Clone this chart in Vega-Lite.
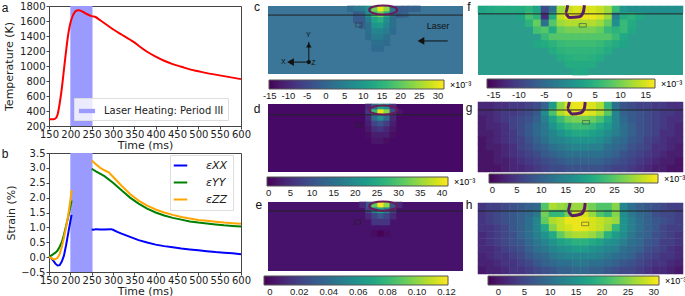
{"$schema":"https://vega.github.io/schema/vega-lite/v6.json","background":"white","padding":{"left":1,"top":-1,"right":30,"bottom":30},"bounds":"flush","spacing":219,
"config":{"font":"DejaVu Sans","view":{"stroke":null},"axis":{"grid":false,"labelFont":"DejaVu Sans","titleFont":"DejaVu Sans","labelFontSize":10,"titleFontSize":11,"titleFontWeight":"normal","labelColor":"#222","titleColor":"#222","tickColor":"#444","domainColor":"#444","tickSize":3,"labelPadding":1,"tickCount":20,"labelOverlap":false,"labelBound":false,"labelFlush":false},"legend":{"titleFont":"Liberation Sans","labelFont":"Liberation Sans","tickCount":20,"labelOverlap":false}},
"hconcat":[
{"vconcat":[
{"width":192,"height":120,"view":{"stroke":"#444"},"layer":[
{"data":{"values":[{"t0":200,"t1":252,"s":"Laser Heating: Period III"}]},"mark":{"type":"rect"},"encoding":{"x":{"field":"t0","type":"quantitative","scale":{"domain":[150,600]},"axis":{"values":[150,200,250,300,350,400,450,500,550,600],"title":"Time (ms)","titlePadding":0,"labelPadding":0}},"x2":{"field":"t1"},"color":{"field":"s","type":"nominal","scale":{"range":["#9a9aff"]},"legend":{"orient":"none","legendX":25,"legendY":92,"title":null,"symbolType":"M-1,-0.27H1V0.27H-1Z","symbolSize":260,"symbolOpacity":1,"labelFont":"DejaVu Sans","labelFontSize":10,"labelColor":"#222","labelOffset":8,"labelExpr":"datum.label+'\u00a0\u00a0\u00a0'","fillColor":"rgba(255,255,255,0.8)","strokeColor":"#ddd","padding":4}}}},
{"data":{"values":[{"t":150,"T":290},{"t":160,"T":290},{"t":165,"T":300},{"t":170,"T":350},{"t":175,"T":500},{"t":180,"T":700},{"t":185,"T":950},{"t":190,"T":1200},{"t":195,"T":1420},{"t":200,"T":1570},{"t":205,"T":1660},{"t":210,"T":1715},{"t":215,"T":1740},{"t":220,"T":1745},{"t":225,"T":1735},{"t":230,"T":1720},{"t":240,"T":1690},{"t":250,"T":1665},{"t":260,"T":1650},{"t":270,"T":1610},{"t":280,"T":1570},{"t":290,"T":1530},{"t":300,"T":1490},{"t":320,"T":1420},{"t":340,"T":1350},{"t":350,"T":1315},{"t":360,"T":1270},{"t":380,"T":1190},{"t":400,"T":1125},{"t":420,"T":1070},{"t":440,"T":1025},{"t":460,"T":990},{"t":480,"T":955},{"t":500,"T":930},{"t":520,"T":905},{"t":540,"T":885},{"t":560,"T":865},{"t":580,"T":845},{"t":600,"T":825}]},"mark":{"type":"line","color":"#ff0000","strokeWidth":2,"interpolate":"monotone"},"encoding":{"x":{"field":"t","type":"quantitative"},"y":{"field":"T","type":"quantitative","scale":{"domain":[200,1800]},"axis":{"values":[200,400,600,800,1000,1200,1400,1600,1800],"format":"d","title":"Temperature (K)","titlePadding":5}}}},
{"data":{"values":[{"t":47,"T":1773,"l":"a"}]},"mark":{"type":"text","font":"Liberation Sans","fontSize":12,"color":"#111"},"encoding":{"x":{"field":"t","type":"quantitative"},"y":{"field":"T","type":"quantitative"},"text":{"field":"l"}}}
]},
{"width":192,"height":119,"view":{"stroke":"#444"},"layer":[
{"data":{"values":[{"t0":200,"t1":252}]},"mark":{"type":"rect","color":"#9a9aff"},"encoding":{"x":{"field":"t0","type":"quantitative","scale":{"domain":[150,600]},"axis":{"values":[150,200,250,300,350,400,450,500,550,600],"title":"Time (ms)","titlePadding":0,"labelPadding":0}},"x2":{"field":"t1"}}},
{"data":{"values":[
{"t":150,"e":0,"s":"εXX","g":1},{"t":155,"e":-0.03,"s":"εXX","g":1},{"t":160,"e":-0.12,"s":"εXX","g":1},{"t":165,"e":-0.22,"s":"εXX","g":1},{"t":170,"e":-0.28,"s":"εXX","g":1},{"t":175,"e":-0.27,"s":"εXX","g":1},{"t":180,"e":-0.15,"s":"εXX","g":1},{"t":185,"e":0.05,"s":"εXX","g":1},{"t":190,"e":0.4,"s":"εXX","g":1},{"t":195,"e":0.8,"s":"εXX","g":1},{"t":200,"e":1.2,"s":"εXX","g":1},{"t":203,"e":1.42,"s":"εXX","g":1},
{"t":250,"e":0.93,"s":"εXX","g":2},{"t":255,"e":0.92,"s":"εXX","g":2},{"t":260,"e":0.94,"s":"εXX","g":2},{"t":270,"e":0.93,"s":"εXX","g":2},{"t":280,"e":0.93,"s":"εXX","g":2},{"t":295,"e":0.94,"s":"εXX","g":2},{"t":300,"e":0.92,"s":"εXX","g":2},{"t":310,"e":0.85,"s":"εXX","g":2},{"t":320,"e":0.79,"s":"εXX","g":2},{"t":340,"e":0.68,"s":"εXX","g":2},{"t":360,"e":0.57,"s":"εXX","g":2},{"t":380,"e":0.49,"s":"εXX","g":2},{"t":400,"e":0.42,"s":"εXX","g":2},{"t":420,"e":0.37,"s":"εXX","g":2},{"t":440,"e":0.33,"s":"εXX","g":2},{"t":460,"e":0.29,"s":"εXX","g":2},{"t":480,"e":0.26,"s":"εXX","g":2},{"t":500,"e":0.23,"s":"εXX","g":2},{"t":520,"e":0.2,"s":"εXX","g":2},{"t":540,"e":0.17,"s":"εXX","g":2},{"t":560,"e":0.15,"s":"εXX","g":2},{"t":580,"e":0.13,"s":"εXX","g":2},{"t":600,"e":0.1,"s":"εXX","g":2},
{"t":150,"e":0,"s":"εYY","g":1},{"t":155,"e":0.05,"s":"εYY","g":1},{"t":160,"e":0.1,"s":"εYY","g":1},{"t":165,"e":0.15,"s":"εYY","g":1},{"t":170,"e":0.22,"s":"εYY","g":1},{"t":175,"e":0.35,"s":"εYY","g":1},{"t":180,"e":0.5,"s":"εYY","g":1},{"t":185,"e":0.75,"s":"εYY","g":1},{"t":190,"e":1.05,"s":"εYY","g":1},{"t":195,"e":1.35,"s":"εYY","g":1},{"t":200,"e":1.7,"s":"εYY","g":1},{"t":203,"e":1.9,"s":"εYY","g":1},
{"t":250,"e":2.97,"s":"εYY","g":2},{"t":260,"e":2.88,"s":"εYY","g":2},{"t":280,"e":2.72,"s":"εYY","g":2},{"t":300,"e":2.5,"s":"εYY","g":2},{"t":320,"e":2.25,"s":"εYY","g":2},{"t":340,"e":2.0,"s":"εYY","g":2},{"t":360,"e":1.8,"s":"εYY","g":2},{"t":380,"e":1.63,"s":"εYY","g":2},{"t":400,"e":1.5,"s":"εYY","g":2},{"t":420,"e":1.4,"s":"εYY","g":2},{"t":440,"e":1.32,"s":"εYY","g":2},{"t":460,"e":1.26,"s":"εYY","g":2},{"t":480,"e":1.2,"s":"εYY","g":2},{"t":500,"e":1.16,"s":"εYY","g":2},{"t":520,"e":1.13,"s":"εYY","g":2},{"t":540,"e":1.1,"s":"εYY","g":2},{"t":560,"e":1.07,"s":"εYY","g":2},{"t":580,"e":1.05,"s":"εYY","g":2},{"t":600,"e":1.03,"s":"εYY","g":2},
{"t":150,"e":0,"s":"εZZ","g":1},{"t":155,"e":-0.03,"s":"εZZ","g":1},{"t":160,"e":-0.07,"s":"εZZ","g":1},{"t":165,"e":-0.07,"s":"εZZ","g":1},{"t":170,"e":-0.02,"s":"εZZ","g":1},{"t":175,"e":0.1,"s":"εZZ","g":1},{"t":180,"e":0.35,"s":"εZZ","g":1},{"t":185,"e":0.65,"s":"εZZ","g":1},{"t":190,"e":1.0,"s":"εZZ","g":1},{"t":195,"e":1.4,"s":"εZZ","g":1},{"t":200,"e":1.9,"s":"εZZ","g":1},{"t":203,"e":2.25,"s":"εZZ","g":1},
{"t":250,"e":3.25,"s":"εZZ","g":2},{"t":260,"e":3.12,"s":"εZZ","g":2},{"t":270,"e":3.0,"s":"εZZ","g":2},{"t":280,"e":2.92,"s":"εZZ","g":2},{"t":290,"e":2.85,"s":"εZZ","g":2},{"t":300,"e":2.7,"s":"εZZ","g":2},{"t":320,"e":2.4,"s":"εZZ","g":2},{"t":340,"e":2.12,"s":"εZZ","g":2},{"t":360,"e":1.9,"s":"εZZ","g":2},{"t":380,"e":1.73,"s":"εZZ","g":2},{"t":400,"e":1.6,"s":"εZZ","g":2},{"t":420,"e":1.5,"s":"εZZ","g":2},{"t":440,"e":1.42,"s":"εZZ","g":2},{"t":460,"e":1.35,"s":"εZZ","g":2},{"t":480,"e":1.3,"s":"εZZ","g":2},{"t":500,"e":1.25,"s":"εZZ","g":2},{"t":520,"e":1.22,"s":"εZZ","g":2},{"t":540,"e":1.19,"s":"εZZ","g":2},{"t":560,"e":1.16,"s":"εZZ","g":2},{"t":580,"e":1.14,"s":"εZZ","g":2},{"t":600,"e":1.12,"s":"εZZ","g":2}
]},"mark":{"type":"line","strokeWidth":2},"encoding":{"x":{"field":"t","type":"quantitative"},"y":{"field":"e","type":"quantitative","scale":{"domain":[-0.5,3.5]},"axis":{"values":[-0.5,0,0.5,1,1.5,2,2.5,3,3.5],"format":".1f","title":"Strain (%)","titlePadding":4}},"detail":{"field":"g"},"color":{"field":"s","type":"nominal","scale":{"domain":["εXX","εYY","εZZ"],"range":["#0000ff","#008000","#ffa500"]},"legend":{"orient":"none","legendX":121,"legendY":2,"title":null,"symbolType":"M-2.5,0H2.5","symbolSize":29,"symbolStrokeWidth":2,"labelFont":"DejaVu Sans","labelFontStyle":"italic","labelFontSize":11,"labelColor":"#222","labelOffset":20,"rowPadding":5,"fillColor":"rgba(255,255,255,0.8)","strokeColor":"#ddd","padding":5}}}},
{"data":{"values":[{"t":47,"e":3.47,"l":"b"}]},"mark":{"type":"text","font":"Liberation Sans","fontSize":12,"color":"#111"},"encoding":{"x":{"field":"t","type":"quantitative"},"y":{"field":"e","type":"quantitative"},"text":{"field":"l"}}}
]}
],"spacing":27,"bounds":"flush","resolve":{"scale":{"color":"independent"},"legend":{"color":"independent"}}},
{"hconcat":[
{"vconcat":[
{"width":195,"height":68,"view":{"fill":"#3b7698"},"encoding":{"x":{"field":"x","type":"quantitative","scale":{"domain":[-0.5,31.5]},"axis":null},"y":{"field":"y","type":"quantitative","scale":{"domain":[11.5,-0.5]},"axis":null}},"layer":[
{"data":{"values":[{"i":13,"j":0,"v":1},{"i":14,"j":0,"v":3},{"i":15,"j":0,"v":4},{"i":16,"j":0,"v":8},{"i":17,"j":0,"v":22},{"i":18,"j":0,"v":30},{"i":19,"j":0,"v":24},{"i":20,"j":0,"v":3},{"i":21,"j":0,"v":-2},{"i":22,"j":0,"v":-2},{"i":23,"j":0,"v":-1},{"i":24,"j":0,"v":-1},{"i":14,"j":1,"v":-2},{"i":15,"j":1,"v":-1},{"i":16,"j":1,"v":8},{"i":17,"j":1,"v":18},{"i":18,"j":1,"v":22},{"i":19,"j":1,"v":14},{"i":20,"j":1,"v":3},{"i":21,"j":1,"v":-2},{"i":22,"j":1,"v":-1},{"i":14,"j":2,"v":-2},{"i":15,"j":2,"v":-2},{"i":16,"j":2,"v":4},{"i":17,"j":2,"v":12},{"i":18,"j":2,"v":14},{"i":19,"j":2,"v":8},{"i":20,"j":2,"v":2},{"i":15,"j":3,"v":-1},{"i":16,"j":3,"v":2},{"i":17,"j":3,"v":9},{"i":18,"j":3,"v":10},{"i":19,"j":3,"v":6},{"i":20,"j":3,"v":2},{"i":16,"j":4,"v":2},{"i":17,"j":4,"v":6},{"i":18,"j":4,"v":6},{"i":19,"j":4,"v":4},{"i":20,"j":4,"v":1},{"i":16,"j":5,"v":1},{"i":17,"j":5,"v":4},{"i":18,"j":5,"v":4},{"i":19,"j":5,"v":2},{"i":17,"j":6,"v":2},{"i":18,"j":6,"v":2},{"i":19,"j":6,"v":1},{"i":17,"j":7,"v":1},{"i":18,"j":7,"v":1}]},"mark":{"type":"rect","width":6.7,"height":6.3},"encoding":{"x":{"field":"i","type":"quantitative","scale":{"domain":[-0.5,31.5]},"axis":null},"y":{"field":"j","type":"quantitative","scale":{"domain":[11.5,-0.5]},"axis":null},"color":{"field":"v","type":"quantitative","scale":{"scheme":"viridis","domain":[-15.2,31.6]},"legend":{"orient":"none","legendX":1,"legendY":74,"direction":"horizontal","gradientLength":175,"gradientThickness":9,"title":"×10⁻³","titleOrient":"right","titleFontSize":9,"titleFontWeight":"normal","values":[-15,-10,-5,0,5,10,15,20,25,30],"labelExpr":"''+datum.value","labelFontSize":9.5,"labelColor":"#222","gradientStrokeColor":"#555","gradientStrokeWidth":1}}}},
{"data":{"values":[{"x":-0.5,"y":1.1},{"x":31.5,"y":1.1}]},"mark":{"type":"line","color":"#222","strokeWidth":1}},
{"data":{"values":[{"x":20.7,"y":0.2,"o":1},{"x":20.03,"y":0.77,"o":2},{"x":18.4,"y":1.0,"o":3},{"x":16.77,"y":0.77,"o":4},{"x":16.1,"y":0.2,"o":5},{"x":16.77,"y":-0.37,"o":6},{"x":18.4,"y":-0.6,"o":7},{"x":20.03,"y":-0.37,"o":8}]},"mark":{"type":"line","color":"#6b1a5a","strokeWidth":2,"interpolate":"cardinal-closed"},"encoding":{"order":{"field":"o"}}},
{"data":{"values":[{"x":13.9,"x2":14.9,"y":2.5,"y2":3.2}]},"mark":{"type":"rect","fillOpacity":0,"stroke":"#333","strokeWidth":0.6},"encoding":{"x2":{"field":"x2"},"y2":{"field":"y2"}}},
{"data":{"values":[{"x":24.6,"y":5.67,"g":"l"},{"x":29,"y":5.67,"g":"l"},{"x":6.2,"y":9.4,"g":"y"},{"x":6.2,"y":5.85,"g":"y"},{"x":6.2,"y":9.4,"g":"x"},{"x":2.94,"y":9.4,"g":"x"}]},"mark":{"type":"line","color":"#111","strokeWidth":1},"encoding":{"detail":{"field":"g"}}},
{"data":{"values":[{"x":24.6,"y":5.67},{"x":3.2,"y":9.4}]},"mark":{"type":"point","shape":"triangle-left","filled":true,"color":"#111","opacity":1,"size":60}},
{"data":{"values":[{"x":6.2,"y":6.4}]},"mark":{"type":"point","shape":"triangle-up","filled":true,"color":"#111","opacity":1,"size":30}},
{"data":{"values":[{"x":6.2,"y":9.4}]},"mark":{"type":"point","shape":"circle","filled":true,"color":"#111","opacity":1,"size":18}},
{"data":{"values":[{"x":27.4,"y":3.0,"l":"Laser"}]},"mark":{"type":"text","font":"Liberation Sans","fontSize":9,"color":"#111"},"encoding":{"text":{"field":"l"}}},
{"data":{"values":[{"x":-2.3,"y":-0.3,"l":"c"}]},"mark":{"type":"text","font":"Liberation Sans","fontSize":12,"color":"#111"},"encoding":{"text":{"field":"l"}}},
{"data":{"values":[{"x":6.1,"y":4.7,"l":"Y"},{"x":2.0,"y":9.3,"l":"X"},{"x":6.95,"y":9.6,"l":"Z"}]},"mark":{"type":"text","font":"Liberation Sans","fontSize":7,"color":"#111"},"encoding":{"text":{"field":"l"}}}
]},
{"width":195,"height":68,"view":{"fill":"#460a66"},"encoding":{"x":{"field":"x","type":"quantitative","scale":{"domain":[-0.5,31.5]},"axis":null},"y":{"field":"y","type":"quantitative","scale":{"domain":[11.5,-0.5]},"axis":null}},"layer":[
{"data":{"values":[{"i":16,"j":0,"v":4},{"i":17,"j":0,"v":14},{"i":18,"j":0,"v":24},{"i":19,"j":0,"v":20},{"i":20,"j":0,"v":6},{"i":16,"j":1,"v":6},{"i":17,"j":1,"v":28},{"i":18,"j":1,"v":40},{"i":19,"j":1,"v":34},{"i":20,"j":1,"v":10},{"i":21,"j":1,"v":2},{"i":16,"j":2,"v":4},{"i":17,"j":2,"v":14},{"i":18,"j":2,"v":20},{"i":19,"j":2,"v":14},{"i":20,"j":2,"v":4},{"i":16,"j":3,"v":3},{"i":17,"j":3,"v":8},{"i":18,"j":3,"v":10},{"i":19,"j":3,"v":7},{"i":20,"j":3,"v":3},{"i":16,"j":4,"v":2},{"i":17,"j":4,"v":5},{"i":18,"j":4,"v":6},{"i":19,"j":4,"v":4},{"i":20,"j":4,"v":2},{"i":16,"j":5,"v":1},{"i":17,"j":5,"v":3},{"i":18,"j":5,"v":3},{"i":19,"j":5,"v":3},{"i":20,"j":5,"v":1},{"i":17,"j":6,"v":2},{"i":18,"j":6,"v":2},{"i":19,"j":6,"v":1}]},"mark":{"type":"rect","width":6.7,"height":6.3},"encoding":{"x":{"field":"i","type":"quantitative","scale":{"domain":[-0.5,31.5]},"axis":null},"y":{"field":"j","type":"quantitative","scale":{"domain":[11.5,-0.5]},"axis":null},"color":{"field":"v","type":"quantitative","scale":{"scheme":"viridis","domain":[-0.4,41.4]},"legend":{"orient":"none","legendX":-1,"legendY":73,"direction":"horizontal","gradientLength":181,"gradientThickness":9,"title":"×10⁻³","titleOrient":"right","titleFontSize":9,"titleFontWeight":"normal","values":[0,5,10,15,20,25,30,35,40],"labelExpr":"''+datum.value","labelFontSize":9.5,"labelColor":"#222","gradientStrokeColor":"#555","gradientStrokeWidth":1}}}},
{"data":{"values":[{"x":-0.5,"y":1.4},{"x":31.5,"y":1.4}]},"mark":{"type":"line","color":"#222","strokeWidth":1}},
{"data":{"values":[{"x":20.7,"y":0.55,"o":1},{"x":20.03,"y":1.12,"o":2},{"x":18.4,"y":1.35,"o":3},{"x":16.77,"y":1.12,"o":4},{"x":16.1,"y":0.55,"o":5},{"x":16.77,"y":-0.02,"o":6},{"x":18.4,"y":-0.25,"o":7},{"x":20.03,"y":-0.02,"o":8}]},"mark":{"type":"line","color":"#6b1a5a","strokeWidth":2,"interpolate":"cardinal-closed"},"encoding":{"order":{"field":"o"}}},
{"data":{"values":[{"x":13.9,"x2":14.9,"y":2.85,"y2":3.55}]},"mark":{"type":"rect","fillOpacity":0,"stroke":"#222","strokeWidth":0.6},"encoding":{"x2":{"field":"x2"},"y2":{"field":"y2"}}},
{"data":{"values":[{"x":-2.3,"y":0.38,"l":"d"}]},"mark":{"type":"text","font":"Liberation Sans","fontSize":12,"color":"#111"},"encoding":{"text":{"field":"l"}}}
]},
{"width":195,"height":69,"view":{"fill":"#47126c"},"encoding":{"x":{"field":"x","type":"quantitative","scale":{"domain":[-0.5,31.5]},"axis":null},"y":{"field":"y","type":"quantitative","scale":{"domain":[11.5,-0.5]},"axis":null}},"layer":[
{"data":{"values":[{"i":16,"j":0,"v":0.03},{"i":17,"j":0,"v":0.09},{"i":18,"j":0,"v":0.12},{"i":19,"j":0,"v":0.1},{"i":20,"j":0,"v":0.03},{"i":15,"j":0,"v":0.01},{"i":21,"j":0,"v":0.01},{"i":16,"j":1,"v":0.02},{"i":17,"j":1,"v":0.05},{"i":18,"j":1,"v":0.07},{"i":19,"j":1,"v":0.05},{"i":20,"j":1,"v":0.02},{"i":16,"j":2,"v":0.01},{"i":17,"j":2,"v":0.02},{"i":18,"j":2,"v":0.03},{"i":19,"j":2,"v":0.02},{"i":20,"j":2,"v":0.01},{"i":17,"j":3,"v":0.015},{"i":18,"j":3,"v":0.015},{"i":19,"j":3,"v":0.015},{"i":17,"j":5,"v":0},{"i":18,"j":5,"v":-0.003},{"i":19,"j":5,"v":0}]},"mark":{"type":"rect","width":6.7,"height":6.4},"encoding":{"x":{"field":"i","type":"quantitative","scale":{"domain":[-0.5,31.5]},"axis":null},"y":{"field":"j","type":"quantitative","scale":{"domain":[11.5,-0.5]},"axis":null},"color":{"field":"v","type":"quantitative","scale":{"scheme":"viridis","domain":[-0.004,0.121]},"legend":{"orient":"none","legendX":-4,"legendY":74,"direction":"horizontal","gradientLength":184,"gradientThickness":9,"title":null,"values":[0,0.02,0.04,0.06,0.08,0.1,0.12],"labelExpr":"datum.value==0?'0':format(datum.value,'.2f')","labelFontSize":9.5,"labelColor":"#222","gradientStrokeColor":"#555","gradientStrokeWidth":1}}}},
{"data":{"values":[{"x":-0.5,"y":1.07},{"x":31.5,"y":1.07}]},"mark":{"type":"line","color":"#222","strokeWidth":1}},
{"data":{"values":[{"x":20.7,"y":0.2,"o":1},{"x":20.03,"y":0.77,"o":2},{"x":18.4,"y":1.0,"o":3},{"x":16.77,"y":0.77,"o":4},{"x":16.1,"y":0.2,"o":5},{"x":16.77,"y":-0.37,"o":6},{"x":18.4,"y":-0.6,"o":7},{"x":20.03,"y":-0.37,"o":8}]},"mark":{"type":"line","color":"#6b1a5a","strokeWidth":2,"interpolate":"cardinal-closed"},"encoding":{"order":{"field":"o"}}},
{"data":{"values":[{"x":13.7,"x2":14.7,"y":2.65,"y2":3.35}]},"mark":{"type":"rect","fillOpacity":0,"stroke":"#222","strokeWidth":0.6},"encoding":{"x2":{"field":"x2"},"y2":{"field":"y2"}}},
{"data":{"values":[{"x":-2.0,"y":0.0,"l":"e"}]},"mark":{"type":"text","font":"Liberation Sans","fontSize":12,"color":"#111"},"encoding":{"text":{"field":"l"}}}
]}
],"spacing":30,"bounds":"flush","resolve":{"scale":{"color":"independent"},"legend":{"color":"independent"}}},
{"vconcat":[
{"vconcat":[
{"width":205,"height":69,"view":{"fill":"#2a9d8c"},"encoding":{"x":{"field":"x","type":"quantitative","scale":{"domain":[-0.5,25.5]},"axis":null},"y":{"field":"y","type":"quantitative","scale":{"domain":[9.5,-0.5]},"axis":null}},"layer":[
{"data":{"values":[{"i":0,"j":0,"v":3},{"i":1,"j":0,"v":3.5},{"i":2,"j":0,"v":4},{"i":3,"j":0,"v":4},{"i":4,"j":0,"v":4},{"i":5,"j":0,"v":4},{"i":6,"j":0,"v":5},{"i":7,"j":0,"v":3},{"i":8,"j":0,"v":-9},{"i":9,"j":0,"v":-4},{"i":10,"j":0,"v":12},{"i":11,"j":0,"v":14},{"i":12,"j":0,"v":15},{"i":13,"j":0,"v":15},{"i":14,"j":0,"v":15},{"i":15,"j":0,"v":14},{"i":16,"j":0,"v":12},{"i":17,"j":0,"v":6},{"i":18,"j":0,"v":1},{"i":19,"j":0,"v":0},{"i":20,"j":0,"v":0},{"i":21,"j":0,"v":0},{"i":22,"j":0,"v":0},{"i":23,"j":0,"v":0},{"i":24,"j":0,"v":0},{"i":25,"j":0,"v":0},{"i":5,"j":1,"v":3},{"i":6,"j":1,"v":7},{"i":7,"j":1,"v":5},{"i":8,"j":1,"v":-12},{"i":9,"j":1,"v":4},{"i":10,"j":1,"v":14},{"i":11,"j":1,"v":16},{"i":12,"j":1,"v":16},{"i":13,"j":1,"v":16},{"i":14,"j":1,"v":16},{"i":15,"j":1,"v":15},{"i":16,"j":1,"v":12},{"i":17,"j":1,"v":-2},{"i":18,"j":1,"v":4},{"i":19,"j":1,"v":5},{"i":20,"j":1,"v":3.5},{"i":6,"j":2,"v":5},{"i":7,"j":2,"v":9},{"i":8,"j":2,"v":-4},{"i":9,"j":2,"v":8},{"i":10,"j":2,"v":12},{"i":11,"j":2,"v":13},{"i":12,"j":2,"v":13},{"i":13,"j":2,"v":13},{"i":14,"j":2,"v":13},{"i":15,"j":2,"v":12},{"i":16,"j":2,"v":9},{"i":17,"j":2,"v":0},{"i":18,"j":2,"v":6},{"i":19,"j":2,"v":4},{"i":7,"j":3,"v":7},{"i":8,"j":3,"v":8},{"i":9,"j":3,"v":4},{"i":10,"j":3,"v":9},{"i":11,"j":3,"v":10},{"i":12,"j":3,"v":10},{"i":13,"j":3,"v":10},{"i":14,"j":3,"v":10},{"i":15,"j":3,"v":9},{"i":16,"j":3,"v":6},{"i":17,"j":3,"v":5},{"i":18,"j":3,"v":6},{"i":19,"j":3,"v":3.5},{"i":8,"j":4,"v":6},{"i":9,"j":4,"v":8},{"i":10,"j":4,"v":8},{"i":11,"j":4,"v":8},{"i":12,"j":4,"v":8},{"i":13,"j":4,"v":8},{"i":14,"j":4,"v":8},{"i":15,"j":4,"v":8},{"i":16,"j":4,"v":8},{"i":17,"j":4,"v":6},{"i":18,"j":4,"v":3.5},{"i":7,"j":5,"v":3.5},{"i":8,"j":5,"v":4},{"i":9,"j":5,"v":5},{"i":10,"j":5,"v":6},{"i":11,"j":5,"v":6.5},{"i":12,"j":5,"v":6.5},{"i":13,"j":5,"v":6.5},{"i":14,"j":5,"v":6.5},{"i":15,"j":5,"v":6},{"i":16,"j":5,"v":5},{"i":17,"j":5,"v":4},{"i":18,"j":5,"v":3},{"i":9,"j":6,"v":4},{"i":10,"j":6,"v":5},{"i":11,"j":6,"v":5.5},{"i":12,"j":6,"v":5.5},{"i":13,"j":6,"v":5.5},{"i":14,"j":6,"v":5.5},{"i":15,"j":6,"v":5},{"i":16,"j":6,"v":4},{"i":10,"j":7,"v":4},{"i":11,"j":7,"v":4.5},{"i":12,"j":7,"v":5},{"i":13,"j":7,"v":5},{"i":14,"j":7,"v":4.5},{"i":15,"j":7,"v":4},{"i":11,"j":8,"v":4},{"i":12,"j":8,"v":4},{"i":13,"j":8,"v":4},{"i":14,"j":8,"v":4},{"i":12,"j":9,"v":3.5},{"i":13,"j":9,"v":3.5}]},"mark":{"type":"rect","width":8.4,"height":7.5},"encoding":{"x":{"field":"i","type":"quantitative","scale":{"domain":[-0.5,25.5]},"axis":null},"y":{"field":"j","type":"quantitative","scale":{"domain":[9.5,-0.5]},"axis":null},"color":{"field":"v","type":"quantitative","scale":{"scheme":"viridis","domain":[-16.3,16.8]},"legend":{"orient":"none","legendX":9,"legendY":73,"direction":"horizontal","gradientLength":168,"gradientThickness":9,"title":"×10⁻³","titleOrient":"right","titleFontSize":9,"titleFontWeight":"normal","values":[-15,-10,-5,0,5,10,15],"labelExpr":"''+datum.value","labelFontSize":9.5,"labelColor":"#222","gradientStrokeColor":"#555","gradientStrokeWidth":1}}}},
{"data":{"values":[{"x":-0.5,"y":0.64},{"x":25.5,"y":0.64}]},"mark":{"type":"line","color":"#222","strokeWidth":1}},
{"data":{"values":[{"x":10.88,"y":-0.6,"o":1},{"x":10.58,"y":0.6,"o":2},{"x":11.09,"y":1.17,"o":3},{"x":12.36,"y":1.07,"o":4},{"x":12.86,"y":0.36,"o":5},{"x":13.0,"y":-0.6,"o":6}]},"mark":{"type":"line","color":"#5a1f63","strokeWidth":3,"interpolate":"monotone"},"encoding":{"order":{"field":"o"}}},
{"data":{"values":[{"x":12.33,"x2":13.23,"y":2.05,"y2":2.55}]},"mark":{"type":"rect","fillOpacity":0,"stroke":"#2f5f50","strokeWidth":0.7},"encoding":{"x2":{"field":"x2"},"y2":{"field":"y2"}}},
{"data":{"values":[{"x":-1.64,"y":-0.36,"l":"f"}]},"mark":{"type":"text","font":"Liberation Sans","fontSize":12,"color":"#111"},"encoding":{"text":{"field":"l"}}}
]},
{"width":205,"height":70,"encoding":{"x":{"field":"x","type":"quantitative","scale":{"domain":[-0.5,25.5]},"axis":null},"y":{"field":"y","type":"quantitative","scale":{"domain":[9.5,-0.5]},"axis":null}},"layer":[
{"data":{"values":[{"i":0,"j":0,"v":3},{"i":1,"j":0,"v":3},{"i":2,"j":0,"v":4},{"i":3,"j":0,"v":4},{"i":4,"j":0,"v":5},{"i":5,"j":0,"v":5},{"i":6,"j":0,"v":6},{"i":7,"j":0,"v":7},{"i":8,"j":0,"v":10},{"i":9,"j":0,"v":18},{"i":10,"j":0,"v":28},{"i":11,"j":0,"v":32},{"i":12,"j":0,"v":33},{"i":13,"j":0,"v":33},{"i":14,"j":0,"v":32},{"i":15,"j":0,"v":30},{"i":16,"j":0,"v":22},{"i":17,"j":0,"v":12},{"i":18,"j":0,"v":8},{"i":19,"j":0,"v":7},{"i":20,"j":0,"v":6},{"i":21,"j":0,"v":6},{"i":22,"j":0,"v":5},{"i":23,"j":0,"v":5},{"i":24,"j":0,"v":4},{"i":25,"j":0,"v":4},
{"i":0,"j":1,"v":3},{"i":1,"j":1,"v":3},{"i":2,"j":1,"v":4},{"i":3,"j":1,"v":5},{"i":4,"j":1,"v":5},{"i":5,"j":1,"v":6},{"i":6,"j":1,"v":7},{"i":7,"j":1,"v":9},{"i":8,"j":1,"v":16},{"i":9,"j":1,"v":24},{"i":10,"j":1,"v":30},{"i":11,"j":1,"v":32},{"i":12,"j":1,"v":33},{"i":13,"j":1,"v":33},{"i":14,"j":1,"v":32},{"i":15,"j":1,"v":30},{"i":16,"j":1,"v":25},{"i":17,"j":1,"v":15},{"i":18,"j":1,"v":10},{"i":19,"j":1,"v":9},{"i":20,"j":1,"v":8},{"i":21,"j":1,"v":7},{"i":22,"j":1,"v":6},{"i":23,"j":1,"v":5},{"i":24,"j":1,"v":5},{"i":25,"j":1,"v":4},
{"i":0,"j":2,"v":2},{"i":1,"j":2,"v":3},{"i":2,"j":2,"v":4},{"i":3,"j":2,"v":5},{"i":4,"j":2,"v":6},{"i":5,"j":2,"v":7},{"i":6,"j":2,"v":8},{"i":7,"j":2,"v":10},{"i":8,"j":2,"v":14},{"i":9,"j":2,"v":19},{"i":10,"j":2,"v":23},{"i":11,"j":2,"v":26},{"i":12,"j":2,"v":27},{"i":13,"j":2,"v":27},{"i":14,"j":2,"v":26},{"i":15,"j":2,"v":24},{"i":16,"j":2,"v":20},{"i":17,"j":2,"v":15},{"i":18,"j":2,"v":11},{"i":19,"j":2,"v":9},{"i":20,"j":2,"v":8},{"i":21,"j":2,"v":7},{"i":22,"j":2,"v":6},{"i":23,"j":2,"v":5},{"i":24,"j":2,"v":4},{"i":25,"j":2,"v":4},
{"i":0,"j":3,"v":2},{"i":1,"j":3,"v":3},{"i":2,"j":3,"v":3},{"i":3,"j":3,"v":4},{"i":4,"j":3,"v":6},{"i":5,"j":3,"v":7},{"i":6,"j":3,"v":9},{"i":7,"j":3,"v":11},{"i":8,"j":3,"v":13},{"i":9,"j":3,"v":17},{"i":10,"j":3,"v":20},{"i":11,"j":3,"v":22},{"i":12,"j":3,"v":23},{"i":13,"j":3,"v":23},{"i":14,"j":3,"v":22},{"i":15,"j":3,"v":20},{"i":16,"j":3,"v":18},{"i":17,"j":3,"v":15},{"i":18,"j":3,"v":12},{"i":19,"j":3,"v":10},{"i":20,"j":3,"v":8},{"i":21,"j":3,"v":7},{"i":22,"j":3,"v":6},{"i":23,"j":3,"v":5},{"i":24,"j":3,"v":4},{"i":25,"j":3,"v":3},
{"i":0,"j":4,"v":2},{"i":1,"j":4,"v":2},{"i":2,"j":4,"v":3},{"i":3,"j":4,"v":4},{"i":4,"j":4,"v":5},{"i":5,"j":4,"v":7},{"i":6,"j":4,"v":9},{"i":7,"j":4,"v":11},{"i":8,"j":4,"v":13},{"i":9,"j":4,"v":15},{"i":10,"j":4,"v":17},{"i":11,"j":4,"v":19},{"i":12,"j":4,"v":20},{"i":13,"j":4,"v":20},{"i":14,"j":4,"v":19},{"i":15,"j":4,"v":18},{"i":16,"j":4,"v":16},{"i":17,"j":4,"v":14},{"i":18,"j":4,"v":12},{"i":19,"j":4,"v":10},{"i":20,"j":4,"v":8},{"i":21,"j":4,"v":7},{"i":22,"j":4,"v":6},{"i":23,"j":4,"v":4},{"i":24,"j":4,"v":4},{"i":25,"j":4,"v":3},
{"i":0,"j":5,"v":1},{"i":1,"j":5,"v":2},{"i":2,"j":5,"v":3},{"i":3,"j":5,"v":4},{"i":4,"j":5,"v":5},{"i":5,"j":5,"v":6},{"i":6,"j":5,"v":8},{"i":7,"j":5,"v":10},{"i":8,"j":5,"v":12},{"i":9,"j":5,"v":14},{"i":10,"j":5,"v":15},{"i":11,"j":5,"v":16},{"i":12,"j":5,"v":17},{"i":13,"j":5,"v":17},{"i":14,"j":5,"v":17},{"i":15,"j":5,"v":16},{"i":16,"j":5,"v":14},{"i":17,"j":5,"v":12},{"i":18,"j":5,"v":11},{"i":19,"j":5,"v":9},{"i":20,"j":5,"v":8},{"i":21,"j":5,"v":6},{"i":22,"j":5,"v":5},{"i":23,"j":5,"v":4},{"i":24,"j":5,"v":3},{"i":25,"j":5,"v":3},
{"i":0,"j":6,"v":1},{"i":1,"j":6,"v":2},{"i":2,"j":6,"v":2},{"i":3,"j":6,"v":3},{"i":4,"j":6,"v":4},{"i":5,"j":6,"v":6},{"i":6,"j":6,"v":7},{"i":7,"j":6,"v":9},{"i":8,"j":6,"v":10},{"i":9,"j":6,"v":12},{"i":10,"j":6,"v":13},{"i":11,"j":6,"v":14},{"i":12,"j":6,"v":15},{"i":13,"j":6,"v":15},{"i":14,"j":6,"v":14},{"i":15,"j":6,"v":14},{"i":16,"j":6,"v":12},{"i":17,"j":6,"v":11},{"i":18,"j":6,"v":10},{"i":19,"j":6,"v":8},{"i":20,"j":6,"v":7},{"i":21,"j":6,"v":6},{"i":22,"j":6,"v":4},{"i":23,"j":6,"v":4},{"i":24,"j":6,"v":3},{"i":25,"j":6,"v":2},
{"i":0,"j":7,"v":1},{"i":1,"j":7,"v":1},{"i":2,"j":7,"v":2},{"i":3,"j":7,"v":3},{"i":4,"j":7,"v":4},{"i":5,"j":7,"v":5},{"i":6,"j":7,"v":6},{"i":7,"j":7,"v":7},{"i":8,"j":7,"v":9},{"i":9,"j":7,"v":10},{"i":10,"j":7,"v":11},{"i":11,"j":7,"v":12},{"i":12,"j":7,"v":12},{"i":13,"j":7,"v":12},{"i":14,"j":7,"v":12},{"i":15,"j":7,"v":12},{"i":16,"j":7,"v":11},{"i":17,"j":7,"v":10},{"i":18,"j":7,"v":8},{"i":19,"j":7,"v":7},{"i":20,"j":7,"v":6},{"i":21,"j":7,"v":5},{"i":22,"j":7,"v":4},{"i":23,"j":7,"v":3},{"i":24,"j":7,"v":2},{"i":25,"j":7,"v":2},
{"i":0,"j":8,"v":1},{"i":1,"j":8,"v":1},{"i":2,"j":8,"v":2},{"i":3,"j":8,"v":2},{"i":4,"j":8,"v":3},{"i":5,"j":8,"v":4},{"i":6,"j":8,"v":5},{"i":7,"j":8,"v":6},{"i":8,"j":8,"v":7},{"i":9,"j":8,"v":8},{"i":10,"j":8,"v":9},{"i":11,"j":8,"v":10},{"i":12,"j":8,"v":10},{"i":13,"j":8,"v":10},{"i":14,"j":8,"v":10},{"i":15,"j":8,"v":10},{"i":16,"j":8,"v":9},{"i":17,"j":8,"v":8},{"i":18,"j":8,"v":7},{"i":19,"j":8,"v":6},{"i":20,"j":8,"v":5},{"i":21,"j":8,"v":4},{"i":22,"j":8,"v":3},{"i":23,"j":8,"v":2},{"i":24,"j":8,"v":2},{"i":25,"j":8,"v":1},
{"i":0,"j":9,"v":1},{"i":1,"j":9,"v":1},{"i":2,"j":9,"v":1},{"i":3,"j":9,"v":2},{"i":4,"j":9,"v":3},{"i":5,"j":9,"v":3},{"i":6,"j":9,"v":4},{"i":7,"j":9,"v":5},{"i":8,"j":9,"v":6},{"i":9,"j":9,"v":7},{"i":10,"j":9,"v":7},{"i":11,"j":9,"v":8},{"i":12,"j":9,"v":8},{"i":13,"j":9,"v":8},{"i":14,"j":9,"v":8},{"i":15,"j":9,"v":8},{"i":16,"j":9,"v":7},{"i":17,"j":9,"v":6},{"i":18,"j":9,"v":6},{"i":19,"j":9,"v":5},{"i":20,"j":9,"v":4},{"i":21,"j":9,"v":3},{"i":22,"j":9,"v":2},{"i":23,"j":9,"v":2},{"i":24,"j":9,"v":1},{"i":25,"j":9,"v":1}]},"mark":{"type":"rect","width":8.4,"height":7.5},"encoding":{"x":{"field":"i","type":"quantitative","scale":{"domain":[-0.5,25.5]},"axis":null},"y":{"field":"j","type":"quantitative","scale":{"domain":[9.5,-0.5]},"axis":null},"color":{"field":"v","type":"quantitative","scale":{"scheme":"viridis","domain":[-0.7,33.9]},"legend":{"orient":"none","legendX":11,"legendY":72,"direction":"horizontal","gradientLength":169,"gradientThickness":9,"title":"×10⁻³","titleOrient":"right","titleFontSize":9,"titleFontWeight":"normal","values":[0,5,10,15,20,25,30],"labelExpr":"''+datum.value","labelFontSize":9.5,"labelColor":"#222","gradientStrokeColor":"#555","gradientStrokeWidth":1}}}},
{"data":{"values":[{"x":-0.5,"y":0.64},{"x":25.5,"y":0.64}]},"mark":{"type":"line","color":"#222","strokeWidth":1}},
{"data":{"values":[{"x":11.09,"y":-0.5,"o":1},{"x":10.8,"y":0.55,"o":2},{"x":11.43,"y":1.21,"o":3},{"x":12.57,"y":1.03,"o":4},{"x":13,"y":0.36,"o":5},{"x":13.1,"y":-0.5,"o":6}]},"mark":{"type":"line","color":"#5a1f63","strokeWidth":3,"interpolate":"monotone"},"encoding":{"order":{"field":"o"}}},
{"data":{"values":[{"x":12.75,"x2":13.65,"y":2.15,"y2":2.65}]},"mark":{"type":"rect","fillOpacity":0,"stroke":"#2f5f50","strokeWidth":0.7},"encoding":{"x2":{"field":"x2"},"y2":{"field":"y2"}}},
{"data":{"values":[{"x":-1.64,"y":0.36,"l":"g"}]},"mark":{"type":"text","font":"Liberation Sans","fontSize":12,"color":"#111"},"encoding":{"text":{"field":"l"}}}
]}
],"spacing":27,"bounds":"flush","resolve":{"scale":{"color":"independent"},"legend":{"color":"independent"}}},
{"width":205,"height":71,"encoding":{"x":{"field":"x","type":"quantitative","scale":{"domain":[-0.5,25.5]},"axis":null},"y":{"field":"y","type":"quantitative","scale":{"domain":[9.5,-0.5]},"axis":null}},"layer":[
{"data":{"values":[{"i":0,"j":0,"v":3},{"i":1,"j":0,"v":4},{"i":2,"j":0,"v":4},{"i":3,"j":0,"v":5},{"i":4,"j":0,"v":6},{"i":5,"j":0,"v":7},{"i":6,"j":0,"v":8},{"i":7,"j":0,"v":9},{"i":8,"j":0,"v":22},{"i":9,"j":0,"v":27},{"i":10,"j":0,"v":26},{"i":11,"j":0,"v":25},{"i":12,"j":0,"v":26},{"i":13,"j":0,"v":26},{"i":14,"j":0,"v":24},{"i":15,"j":0,"v":22},{"i":16,"j":0,"v":22},{"i":17,"j":0,"v":25},{"i":18,"j":0,"v":13},{"i":19,"j":0,"v":10},{"i":20,"j":0,"v":8},{"i":21,"j":0,"v":7},{"i":22,"j":0,"v":6},{"i":23,"j":0,"v":5},{"i":24,"j":0,"v":4},{"i":25,"j":0,"v":4},
{"i":0,"j":1,"v":3},{"i":1,"j":1,"v":4},{"i":2,"j":1,"v":5},{"i":3,"j":1,"v":6},{"i":4,"j":1,"v":7},{"i":5,"j":1,"v":8},{"i":6,"j":1,"v":9},{"i":7,"j":1,"v":11},{"i":8,"j":1,"v":24},{"i":9,"j":1,"v":20},{"i":10,"j":1,"v":20},{"i":11,"j":1,"v":24},{"i":12,"j":1,"v":28},{"i":13,"j":1,"v":29},{"i":14,"j":1,"v":26},{"i":15,"j":1,"v":22},{"i":16,"j":1,"v":20},{"i":17,"j":1,"v":25},{"i":18,"j":1,"v":14},{"i":19,"j":1,"v":11},{"i":20,"j":1,"v":9},{"i":21,"j":1,"v":8},{"i":22,"j":1,"v":6},{"i":23,"j":1,"v":5},{"i":24,"j":1,"v":5},{"i":25,"j":1,"v":4},
{"i":0,"j":2,"v":3},{"i":1,"j":2,"v":4},{"i":2,"j":2,"v":5},{"i":3,"j":2,"v":6},{"i":4,"j":2,"v":7},{"i":5,"j":2,"v":8},{"i":6,"j":2,"v":10},{"i":7,"j":2,"v":13},{"i":8,"j":2,"v":23},{"i":9,"j":2,"v":27},{"i":10,"j":2,"v":28},{"i":11,"j":2,"v":30},{"i":12,"j":2,"v":30},{"i":13,"j":2,"v":30},{"i":14,"j":2,"v":29},{"i":15,"j":2,"v":28},{"i":16,"j":2,"v":27},{"i":17,"j":2,"v":26},{"i":18,"j":2,"v":15},{"i":19,"j":2,"v":12},{"i":20,"j":2,"v":10},{"i":21,"j":2,"v":8},{"i":22,"j":2,"v":7},{"i":23,"j":2,"v":6},{"i":24,"j":2,"v":5},{"i":25,"j":2,"v":4},
{"i":0,"j":3,"v":3},{"i":1,"j":3,"v":3},{"i":2,"j":3,"v":4},{"i":3,"j":3,"v":5},{"i":4,"j":3,"v":7},{"i":5,"j":3,"v":8},{"i":6,"j":3,"v":10},{"i":7,"j":3,"v":13},{"i":8,"j":3,"v":18},{"i":9,"j":3,"v":25},{"i":10,"j":3,"v":28},{"i":11,"j":3,"v":29},{"i":12,"j":3,"v":30},{"i":13,"j":3,"v":30},{"i":14,"j":3,"v":29},{"i":15,"j":3,"v":28},{"i":16,"j":3,"v":26},{"i":17,"j":3,"v":20},{"i":18,"j":3,"v":15},{"i":19,"j":3,"v":12},{"i":20,"j":3,"v":10},{"i":21,"j":3,"v":8},{"i":22,"j":3,"v":7},{"i":23,"j":3,"v":5},{"i":24,"j":3,"v":4},{"i":25,"j":3,"v":4},
{"i":0,"j":4,"v":2},{"i":1,"j":4,"v":3},{"i":2,"j":4,"v":4},{"i":3,"j":4,"v":5},{"i":4,"j":4,"v":6},{"i":5,"j":4,"v":8},{"i":6,"j":4,"v":10},{"i":7,"j":4,"v":12},{"i":8,"j":4,"v":15},{"i":9,"j":4,"v":18},{"i":10,"j":4,"v":23},{"i":11,"j":4,"v":26},{"i":12,"j":4,"v":27},{"i":13,"j":4,"v":27},{"i":14,"j":4,"v":26},{"i":15,"j":4,"v":24},{"i":16,"j":4,"v":19},{"i":17,"j":4,"v":16},{"i":18,"j":4,"v":14},{"i":19,"j":4,"v":11},{"i":20,"j":4,"v":9},{"i":21,"j":4,"v":8},{"i":22,"j":4,"v":6},{"i":23,"j":4,"v":5},{"i":24,"j":4,"v":4},{"i":25,"j":4,"v":3},
{"i":0,"j":5,"v":2},{"i":1,"j":5,"v":3},{"i":2,"j":5,"v":4},{"i":3,"j":5,"v":5},{"i":4,"j":5,"v":6},{"i":5,"j":5,"v":7},{"i":6,"j":5,"v":9},{"i":7,"j":5,"v":11},{"i":8,"j":5,"v":13},{"i":9,"j":5,"v":15},{"i":10,"j":5,"v":17},{"i":11,"j":5,"v":18},{"i":12,"j":5,"v":19},{"i":13,"j":5,"v":19},{"i":14,"j":5,"v":18},{"i":15,"j":5,"v":17},{"i":16,"j":5,"v":15},{"i":17,"j":5,"v":14},{"i":18,"j":5,"v":12},{"i":19,"j":5,"v":10},{"i":20,"j":5,"v":9},{"i":21,"j":5,"v":7},{"i":22,"j":5,"v":6},{"i":23,"j":5,"v":4},{"i":24,"j":5,"v":4},{"i":25,"j":5,"v":3},
{"i":0,"j":6,"v":2},{"i":1,"j":6,"v":2},{"i":2,"j":6,"v":3},{"i":3,"j":6,"v":4},{"i":4,"j":6,"v":5},{"i":5,"j":6,"v":6},{"i":6,"j":6,"v":8},{"i":7,"j":6,"v":10},{"i":8,"j":6,"v":11},{"i":9,"j":6,"v":13},{"i":10,"j":6,"v":14},{"i":11,"j":6,"v":15},{"i":12,"j":6,"v":16},{"i":13,"j":6,"v":16},{"i":14,"j":6,"v":15},{"i":15,"j":6,"v":14},{"i":16,"j":6,"v":13},{"i":17,"j":6,"v":12},{"i":18,"j":6,"v":10},{"i":19,"j":6,"v":9},{"i":20,"j":6,"v":8},{"i":21,"j":6,"v":6},{"i":22,"j":6,"v":5},{"i":23,"j":6,"v":4},{"i":24,"j":6,"v":3},{"i":25,"j":6,"v":2},
{"i":0,"j":7,"v":1},{"i":1,"j":7,"v":2},{"i":2,"j":7,"v":3},{"i":3,"j":7,"v":3},{"i":4,"j":7,"v":4},{"i":5,"j":7,"v":5},{"i":6,"j":7,"v":7},{"i":7,"j":7,"v":8},{"i":8,"j":7,"v":9},{"i":9,"j":7,"v":11},{"i":10,"j":7,"v":12},{"i":11,"j":7,"v":13},{"i":12,"j":7,"v":13},{"i":13,"j":7,"v":13},{"i":14,"j":7,"v":13},{"i":15,"j":7,"v":12},{"i":16,"j":7,"v":11},{"i":17,"j":7,"v":10},{"i":18,"j":7,"v":9},{"i":19,"j":7,"v":8},{"i":20,"j":7,"v":6},{"i":21,"j":7,"v":5},{"i":22,"j":7,"v":4},{"i":23,"j":7,"v":3},{"i":24,"j":7,"v":3},{"i":25,"j":7,"v":2},
{"i":0,"j":8,"v":1},{"i":1,"j":8,"v":1},{"i":2,"j":8,"v":2},{"i":3,"j":8,"v":3},{"i":4,"j":8,"v":3},{"i":5,"j":8,"v":4},{"i":6,"j":8,"v":5},{"i":7,"j":8,"v":7},{"i":8,"j":8,"v":8},{"i":9,"j":8,"v":9},{"i":10,"j":8,"v":10},{"i":11,"j":8,"v":10},{"i":12,"j":8,"v":11},{"i":13,"j":8,"v":11},{"i":14,"j":8,"v":10},{"i":15,"j":8,"v":10},{"i":16,"j":8,"v":9},{"i":17,"j":8,"v":8},{"i":18,"j":8,"v":7},{"i":19,"j":8,"v":6},{"i":20,"j":8,"v":5},{"i":21,"j":8,"v":4},{"i":22,"j":8,"v":3},{"i":23,"j":8,"v":3},{"i":24,"j":8,"v":2},{"i":25,"j":8,"v":1},
{"i":0,"j":9,"v":0},{"i":1,"j":9,"v":1},{"i":2,"j":9,"v":1},{"i":3,"j":9,"v":2},{"i":4,"j":9,"v":3},{"i":5,"j":9,"v":3},{"i":6,"j":9,"v":4},{"i":7,"j":9,"v":5},{"i":8,"j":9,"v":6},{"i":9,"j":9,"v":7},{"i":10,"j":9,"v":8},{"i":11,"j":9,"v":8},{"i":12,"j":9,"v":9},{"i":13,"j":9,"v":9},{"i":14,"j":9,"v":8},{"i":15,"j":9,"v":8},{"i":16,"j":9,"v":7},{"i":17,"j":9,"v":6},{"i":18,"j":9,"v":5},{"i":19,"j":9,"v":5},{"i":20,"j":9,"v":4},{"i":21,"j":9,"v":3},{"i":22,"j":9,"v":2},{"i":23,"j":9,"v":2},{"i":24,"j":9,"v":1},{"i":25,"j":9,"v":0}]},"mark":{"type":"rect","width":8.4,"height":7.6},"encoding":{"x":{"field":"i","type":"quantitative","scale":{"domain":[-0.5,25.5]},"axis":null},"y":{"field":"j","type":"quantitative","scale":{"domain":[9.5,-0.5]},"axis":null},"color":{"field":"v","type":"quantitative","scale":{"scheme":"viridis","domain":[-2,31]},"legend":{"orient":"none","legendX":10,"legendY":73,"direction":"horizontal","gradientLength":171,"gradientThickness":9,"title":"×10⁻³","titleOrient":"right","titleFontSize":9,"titleFontWeight":"normal","values":[0,5,10,15,20,25,30],"labelExpr":"''+datum.value","labelFontSize":9.5,"labelColor":"#222","gradientStrokeColor":"#555","gradientStrokeWidth":1}}}},
{"data":{"values":[{"x":-0.5,"y":0.63},{"x":25.5,"y":0.63}]},"mark":{"type":"line","color":"#222","strokeWidth":1}},
{"data":{"values":[{"x":11.18,"y":-0.5,"o":1},{"x":10.88,"y":0.67,"o":2},{"x":11.43,"y":1.29,"o":3},{"x":12.57,"y":1.05,"o":4},{"x":13,"y":0.3,"o":5},{"x":13.1,"y":-0.5,"o":6}]},"mark":{"type":"line","color":"#5a1f63","strokeWidth":3,"interpolate":"monotone"},"encoding":{"order":{"field":"o"}}},
{"data":{"values":[{"x":12.65,"x2":13.55,"y":2.2,"y2":2.7}]},"mark":{"type":"rect","fillOpacity":0,"stroke":"#5f5f30","strokeWidth":0.7},"encoding":{"x2":{"field":"x2"},"y2":{"field":"y2"}}},
{"data":{"values":[{"x":-1.64,"y":-0.2,"l":"h"}]},"mark":{"type":"text","font":"Liberation Sans","fontSize":12,"color":"#111"},"encoding":{"text":{"field":"l"}}}
]}
],"spacing":197,"bounds":"flush","resolve":{"scale":{"color":"independent"},"legend":{"color":"independent"}}}
],"spacing":210,"bounds":"flush","resolve":{"scale":{"color":"independent"},"legend":{"color":"independent"}}}
],"resolve":{"scale":{"color":"independent"},"legend":{"color":"independent"}}}
